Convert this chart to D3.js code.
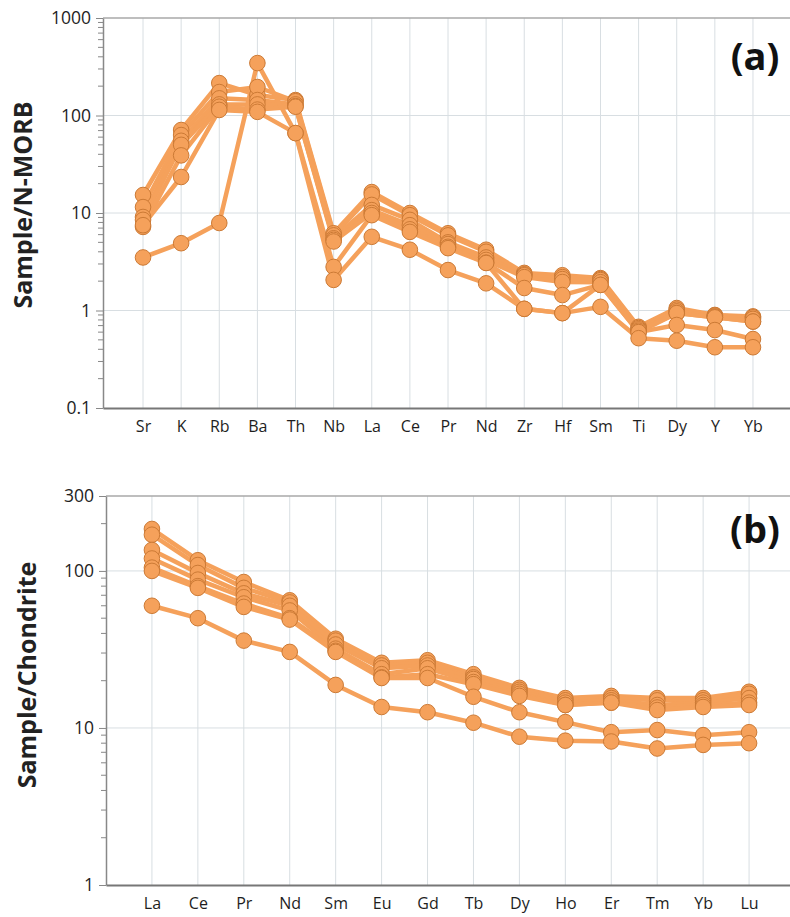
<!DOCTYPE html>
<html>
<head>
<meta charset="utf-8">
<script src="https://cdn.jsdelivr.net/npm/d3@7"></script>
<style>
  body { margin: 0; background: #fff; }
  svg { display: block; font-family: 'Open Sans', sans-serif; }
</style>
</head>
<body>
<svg id="chart" width="790" height="917"></svg>
<script>
// (a) N-MORB normalised spider diagram
const elementsA = ['Sr', 'K', 'Rb', 'Ba', 'Th', 'Nb', 'La', 'Ce', 'Pr', 'Nd', 'Zr', 'Hf', 'Sm', 'Ti', 'Dy', 'Y', 'Yb'];
const nmorbValues = [
  [15.3, 71, 215, 162, 144, 6.2, 16.4, 10, 6.2, 4.2, 2.43, 2.3, 2.15, 0.68, 1.06, 0.9, 0.87],
  [11.5, 63, 174, 196, 140, 5.9, 15.5, 9.5, 5.9, 4.0, 2.35, 2.2, 2.1, 0.66, 1.02, 0.89, 0.85],
  [9.1, 55, 150, 144, 130, 5.5, 12.1, 8.5, 5.0, 3.5, 2.3, 2.1, 2.05, 0.64, 0.98, 0.87, 0.82],
  [8.5, 50, 130, 130, 125, 5.3, 10.7, 7.5, 4.8, 3.3, 2.2, 1.96, 1.95, 0.62, 0.94, 0.85, 0.77],
  [7.2, 39, 123, 115, 123, 5.1, 10, 6.8, 4.5, 3.1, 1.7, 1.44, 1.83, 0.6, 0.94, 0.85, 0.77],
  [7.5, 23.4, 114, 109, 66, 2.8, 9.5, 6.4, 4.36, 3.07, 1.04, 0.94, 1.83, 0.6, 0.71, 0.63, 0.51],
  [3.5, 4.9, 7.9, 345, 66, 2.06, 5.7, 4.2, 2.6, 1.9, 1.04, 0.94, 1.09, 0.52, 0.49, 0.42, 0.42],
];
const ticksA = [0.1, 1, 10, 100, 1000];
const tickLabelsA = ['0.1', '1', '10', '100', '1000'];

// (b) chondrite normalised REE pattern
const elementsB = ['La', 'Ce', 'Pr', 'Nd', 'Sm', 'Eu', 'Gd', 'Tb', 'Dy', 'Ho', 'Er', 'Tm', 'Yb', 'Lu'];
const chondriteValues = [
  [185, 117, 85, 65, 37, 26, 27, 22, 18, 15.5, 16, 15.5, 15.5, 17],
  [170, 109, 78, 63, 36, 25, 26, 21, 17.5, 15, 15.5, 15, 15, 16.5],
  [136, 97, 72, 60, 34, 24, 25, 20.5, 17, 14.5, 15, 14, 14.5, 15.5],
  [120, 88, 68, 56, 32, 22, 24, 19.6, 16.5, 14, 14.5, 13.5, 14, 14.5],
  [105, 80, 62, 50, 31, 21, 22, 19, 16, 14, 14.5, 13, 13.6, 14],
  [100, 78, 59, 49, 30.5, 20.8, 20.8, 15.8, 12.6, 10.9, 9.4, 9.7, 9.0, 9.4],
  [60, 50, 36, 30.5, 18.8, 13.6, 12.6, 10.8, 8.8, 8.3, 8.2, 7.4, 7.8, 8.0],
];
const ticksB = [1, 10, 100, 300];
const tickLabelsB = ['1', '10', '100', '300'];

const orange = '#f5a15b';
const markerEdge = '#cc7a35';

const svg = d3.select('#chart');

function drawPanel(cfg) {
  const { box, elements, values, domain, ticks, tickLabels, title, tag, padding } = cfg;

  const x = d3
    .scalePoint()
    .domain(elements)
    .range([box.left, box.right])
    .padding(padding);
  const y = d3
    .scaleLog()
    .domain(domain)
    .range([box.bottom, box.top]);

  const g = svg.append('g');

  // grid
  g.selectAll('.vgrid')
    .data(elements)
    .join('line')
    .attr('x1', d => x(d))
    .attr('x2', d => x(d))
    .attr('y1', box.top)
    .attr('y2', box.bottom)
    .attr('stroke', '#d8dee2')
    .attr('stroke-width', 1);

  g.selectAll('.hgrid')
    .data(ticks.filter(t => t > domain[0] && t < domain[1]))
    .join('line')
    .attr('x1', box.left)
    .attr('x2', box.right)
    .attr('y1', d => y(d))
    .attr('y2', d => y(d))
    .attr('stroke', '#d8dee2')
    .attr('stroke-width', 1);

  // frame top
  g.append('line')
    .attr('x1', box.left)
    .attr('x2', box.right)
    .attr('y1', box.top)
    .attr('y2', box.top)
    .attr('stroke', '#a8a8a8')
    .attr('stroke-width', 1.5);

  // minor ticks on the log axis
  const minor = [];
  for (let p = Math.floor(Math.log10(domain[0])); p < Math.ceil(Math.log10(domain[1])); p++) {
    for (let m = 2; m <= 9; m++) {
      const v = m * Math.pow(10, p);
      if (v > domain[0] && v < domain[1]) minor.push(v);
    }
  }
  g.selectAll('.minor')
    .data(minor)
    .join('line')
    .attr('x1', box.left - 5)
    .attr('x2', box.left)
    .attr('y1', d => y(d))
    .attr('y2', d => y(d))
    .attr('stroke', '#888')
    .attr('stroke-width', 1);

  const yAxis = d3
    .axisLeft(y)
    .tickValues(ticks)
    .tickSizeInner(7)
    .tickSizeOuter(0)
    .tickPadding(5)
    .tickFormat((d, i) => tickLabels[i]);

  const ya = g
    .append('g')
    .attr('transform', `translate(${box.left},0)`)
    .call(yAxis);
  ya.select('.domain').attr('stroke', '#888').attr('stroke-width', 1.5);
  ya.selectAll('.tick line').attr('stroke', '#888');
  ya.selectAll('.tick text')
    .attr('font-size', 17.5)
    .attr('fill', '#1e1e1e')
    .attr('font-family', "'Open Sans', sans-serif");

  const xAxis = d3
    .axisBottom(x)
    .tickSize(0)
    .tickPadding(13);
  const xa = g
    .append('g')
    .attr('transform', `translate(0,${box.bottom})`)
    .call(xAxis);
  xa.select('.domain').attr('stroke', '#777').attr('stroke-width', 2);
  xa.selectAll('.tick text')
    .attr('font-size', 16)
    .attr('fill', '#1e1e1e')
    .attr('font-family', "'Open Sans', sans-serif");

  // axis title
  g.append('text')
    .attr('transform', `translate(${box.titleX},${box.titleY}) rotate(-90)`)
    .attr('text-anchor', 'middle')
    .attr('dominant-baseline', 'central')
    .attr('font-size', box.titleSize)
    .attr('font-weight', 'bold')
    .attr('fill', '#222')
    .text(title);

  // panel tag
  g.append('text')
    .attr('x', box.tagX)
    .attr('y', box.tagY)
    .attr('text-anchor', 'middle')
    .attr('font-size', 38)
    .attr('font-weight', 'bold')
    .attr('fill', '#111')
    .text(tag);

  const line = d3
    .line()
    .x((d, i) => x(elements[i]))
    .y(d => y(d));

  values.forEach(row => {
    g.append('path')
      .datum(row)
      .attr('fill', 'none')
      .attr('stroke', orange)
      .attr('stroke-width', 4.5)
      .attr('stroke-linejoin', 'round')
      .attr('d', line);
  });

  values.forEach(row => {
    g.selectAll(null)
      .data(row)
      .join('circle')
      .attr('cx', (d, i) => x(elements[i]))
      .attr('cy', d => y(d))
      .attr('r', 7.8)
      .attr('fill', orange)
      .attr('stroke', markerEdge)
      .attr('stroke-width', 1);
  });
}

drawPanel({
  box: { left: 103, right: 793, top: 18, bottom: 408, titleX: 22, titleY: 205, titleSize: 25, tagX: 755, tagY: 70 },
  elements: elementsA,
  values: nmorbValues,
  domain: [0.1, 1000],
  ticks: ticksA,
  tickLabels: tickLabelsA,
  title: 'Sample/N-MORB',
  tag: '(a)',
  padding: 1.05,
});

drawPanel({
  box: { left: 106, right: 795, top: 496, bottom: 885, titleX: 26, titleY: 675, titleSize: 25, tagX: 755, tagY: 543 },
  elements: elementsB,
  values: chondriteValues,
  domain: [1, 300],
  ticks: ticksB,
  tickLabels: tickLabelsB,
  title: 'Sample/Chondrite',
  tag: '(b)',
  padding: 1,
});
</script>
</body>
</html>
